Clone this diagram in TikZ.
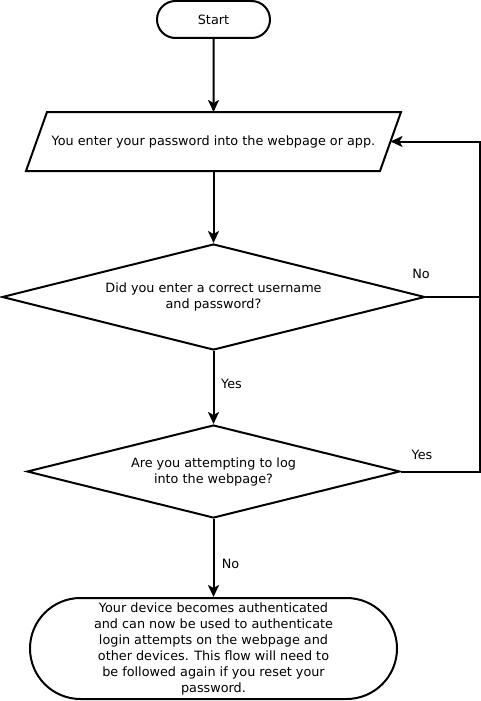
\documentclass[tikz,border=0pt]{standalone}
\usepackage{fontspec}
\setmainfont{DejaVu Sans}
\usetikzlibrary{shapes.geometric, shapes.misc, arrows.meta}

\begin{document}
\begin{tikzpicture}[x=1pt, y=-1pt, line width=2pt,
        font=\fontsize{12.8}{16}\selectfont,
        arr/.style={-{Stealth[length=12pt, width=11pt, inset=3pt]}},
        term/.style={draw, rounded rectangle, inner sep=0pt},
        io/.style={inner sep=0pt, minimum width=352pt, minimum height=57pt},
        decision/.style={draw, diamond, aspect=4, inner sep=0pt, align=center},
        lbl/.style={inner sep=0pt}]
        \useasboundingbox (0,0) rectangle (481,701);

        % Start and input
        \node[term, minimum width=113pt, minimum height=37pt] (start) at (213.5,19.5) {Start};
        \node[io] (input) at (213.5,141.5) {You enter your password into the webpage or app.};
        \draw ([xshift=10.5pt]input.north west) -- ([xshift=10.5pt]input.north east)
            -- ([xshift=-10.5pt]input.south east) -- ([xshift=-10.5pt]input.south west) -- cycle;

        % Decisions
        \node[decision, minimum width=423pt, minimum height=106pt] (check) at (213.5,297) {Did you enter a correct username\\and password?};
        \node[decision, minimum width=373pt, minimum height=93pt] (web) at (213.5,471.5) {Are you attempting to log\\into the webpage?};

        % End
        \node[term, minimum width=367pt, minimum height=101pt, align=center] (done) at (213.5,648.5) {Your device becomes authenticated\\and can now be used to authenticate\\login attempts on the webpage and\\other devices. This flow will need to\\be followed again if you reset your\\password.};

        % Loop back line on the right
        \coordinate (loop) at (480,0);

        % Connections
        \draw[arr] (start) -- (input);
        \draw[arr] (input) -- (check);
        \draw[arr] (check) -- node[lbl, pos=0.45, xshift=18pt] {Yes} (web);
        \draw[arr] (web) -- node[lbl, pos=0.58, xshift=17pt] {No} (done);
        \draw[arr] (check.east) -- node[lbl, pos=0, xshift=-5pt, yshift=23pt] {No} (check.east -| loop) |- (input.east);
        \draw (web.east) -- node[lbl, pos=0, xshift=21pt, yshift=17pt] {Yes} (web.east -| loop) -- (check.east -| loop);

    \end{tikzpicture}
\end{document}
